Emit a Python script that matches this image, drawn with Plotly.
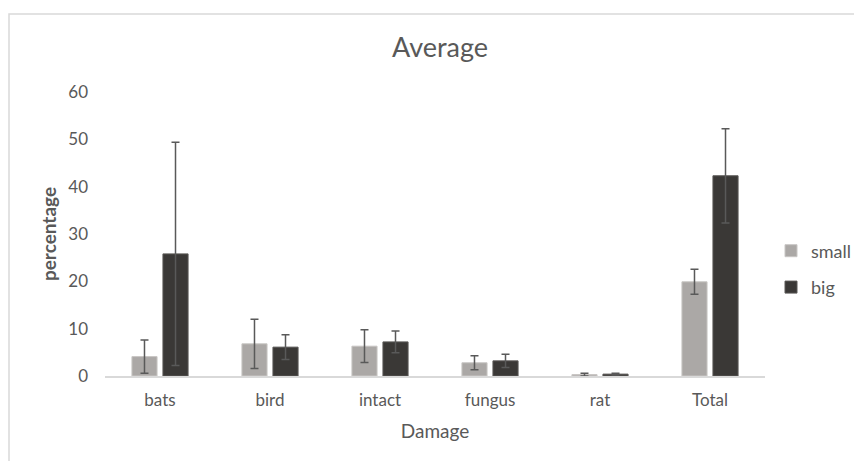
import plotly.graph_objects as go

categories = ["bats", "bird", "intact", "fungus", "rat", "Total"]
small_values = [4.1, 6.8, 6.3, 2.8, 0.3, 19.9]
small_errors = [3.5, 5.2, 3.45, 1.5, 0.3, 2.65]
big_values = [25.8, 6.1, 7.2, 3.2, 0.4, 42.3]
big_errors = [23.6, 2.6, 2.3, 1.4, 0.2, 9.95]

# page has an 8px body margin; figure size/margins compensate for it
OFF = 8
W, H = 862 - OFF, 461 - OFF
L, R, T, B = 105 - OFF, 97, 92 - OFF, 85
pw, ph = W - L - R, H - T - B

FONT = "Lato"
TXT = "#595959"

fig = go.Figure()
fig.add_trace(go.Bar(
    name="small", x=categories, y=small_values, legendgroup="a",
    marker=dict(color="#ABA8A6", line=dict(color="#C8C6C4", width=1)),
    error_y=dict(type="data", array=small_errors, visible=True,
                 color="#595959", thickness=1.5, width=4),
))
fig.add_trace(go.Bar(
    name="big", x=categories, y=big_values, legendgroup="b",
    marker=dict(color="#3A3836", line=dict(color="#5A5856", width=1)),
    error_y=dict(type="data", array=big_errors, visible=True,
                 color="#595959", thickness=1.5, width=4),
))

def px2x(px):
    return (px - OFF - L) / pw

def px2y(py):
    return 1 - (py - OFF - T) / ph

fig.update_layout(
    width=W, height=H,
    margin=dict(l=L, r=R, t=T, b=B, autoexpand=False),
    paper_bgcolor="white", plot_bgcolor="white",
    barmode="group", bargap=0.436, bargroupgap=0.19,
    font=dict(family=FONT, color=TXT, size=17),
    title=dict(text="Average", x=(440 - OFF) / W, xanchor="center",
               y=1 - (48 - OFF) / H, yanchor="middle",
               font=dict(size=27, color=TXT, family=FONT)),
    xaxis=dict(showgrid=False, showline=True, linecolor="#D9D9D9", linewidth=1.5,
               ticks="", ticklabelstandoff=8, tickfont=dict(size=17, color=TXT),
               title=dict(text="Damage", font=dict(size=19, color=TXT), standoff=16)),
    yaxis=dict(range=[0, 60], dtick=10, showgrid=False, showline=False, zeroline=False,
               ticks="", ticklabelstandoff=16, tickfont=dict(size=17, color=TXT),
               title=dict(text="<b>percentage</b>", font=dict(size=19, color=TXT), standoff=6)),
    legend=dict(xref="container", x=(771 - OFF) / W, xanchor="left",
                y=px2y(269), yanchor="middle",
                font=dict(size=18, color=TXT), tracegroupgap=10,
                itemwidth=30, bgcolor="rgba(0,0,0,0)", borderwidth=0),
    shapes=[dict(type="rect", xref="paper", yref="paper",
                 x0=px2x(9), x1=px2x(862 + 20), y0=px2y(461 + 20), y1=px2y(14),
                 line=dict(color="#D9D9D9", width=1.5), layer="below")],
)

fig.write_html("out.html")
